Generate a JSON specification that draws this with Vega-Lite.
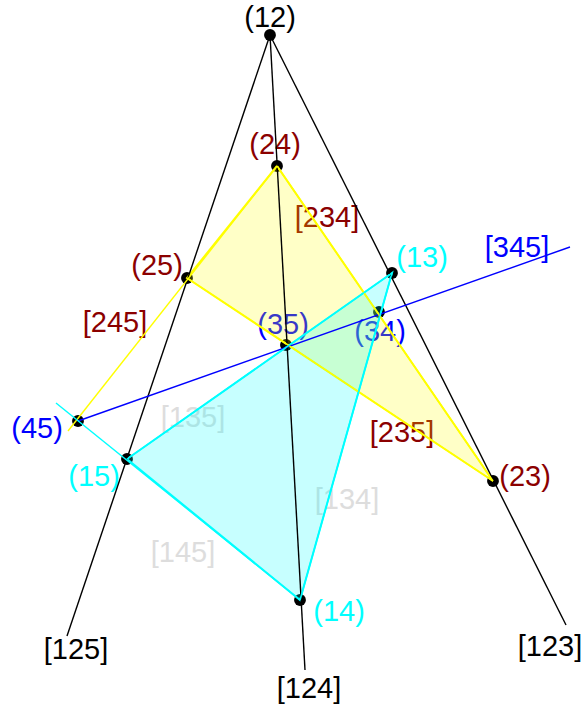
{
  "$schema": "https://vega.github.io/schema/vega-lite/v6.json",
  "width": 583,
  "height": 705,
  "padding": 0,
  "autosize": {"type": "fit", "contains": "padding"},
  "background": "white",
  "config": {"view": {"stroke": null}},
  "datasets": {
    "labels": [
      {"text": "(12)", "x": 270, "y": 18, "grp": "base"},
      {"text": "(24)", "x": 275, "y": 145, "grp": "y"},
      {"text": "(25)", "x": 157, "y": 266, "grp": "y"},
      {"text": "(23)", "x": 525, "y": 477, "grp": "y"},
      {"text": "[234]", "x": 327, "y": 218, "grp": "y"},
      {"text": "[245]", "x": 115, "y": 323, "grp": "y"},
      {"text": "[235]", "x": 402, "y": 433, "grp": "y"},
      {"text": "(13)", "x": 422, "y": 258, "grp": "c"},
      {"text": "(15)", "x": 94, "y": 477, "grp": "c"},
      {"text": "(14)", "x": 339, "y": 612, "grp": "c"},
      {"text": "[135]", "x": 193, "y": 418, "grp": "g"},
      {"text": "[145]", "x": 183, "y": 553, "grp": "g"},
      {"text": "[134]", "x": 347, "y": 500, "grp": "g"},
      {"text": "(35)", "x": 283, "y": 325, "grp": "b"},
      {"text": "(34)", "x": 380, "y": 332, "grp": "b"},
      {"text": "(45)", "x": 37, "y": 429, "grp": "b"},
      {"text": "[345]", "x": 517, "y": 248, "grp": "b"},
      {"text": "[125]", "x": 76, "y": 650, "grp": "base"},
      {"text": "[124]", "x": 309, "y": 689, "grp": "base"},
      {"text": "[123]", "x": 550, "y": 647, "grp": "base"}
    ],
    "points": [
      {"name": "12", "x": 270, "y": 35},
      {"name": "24", "x": 277, "y": 166},
      {"name": "25", "x": 187, "y": 278},
      {"name": "13", "x": 392, "y": 273},
      {"name": "34", "x": 379, "y": 312},
      {"name": "35", "x": 286, "y": 345},
      {"name": "45", "x": 78, "y": 421},
      {"name": "15", "x": 127, "y": 459},
      {"name": "23", "x": 493, "y": 481},
      {"name": "14", "x": 300, "y": 600}
    ],
    "polys": [
      {"poly": "Y", "k": 1, "x": 277, "y": 166},
      {"poly": "Y", "k": 2, "x": 187, "y": 278},
      {"poly": "Y", "k": 3, "x": 493, "y": 481},
      {"poly": "C", "k": 1, "x": 392, "y": 273},
      {"poly": "C", "k": 2, "x": 127, "y": 459},
      {"poly": "C", "k": 3, "x": 300, "y": 600}
    ],
    "lines": [
      {"line": "125", "grp": "base", "k": 1, "x": 270, "y": 35},
      {"line": "125", "grp": "base", "k": 2, "x": 67, "y": 636},
      {"line": "124", "grp": "base", "k": 1, "x": 270, "y": 35},
      {"line": "124", "grp": "base", "k": 2, "x": 305, "y": 670},
      {"line": "123", "grp": "base", "k": 1, "x": 270, "y": 35},
      {"line": "123", "grp": "base", "k": 2, "x": 566, "y": 625},
      {"line": "345", "grp": "b", "k": 1, "x": 78, "y": 421},
      {"line": "345", "grp": "b", "k": 2, "x": 570, "y": 247},
      {"line": "245", "grp": "y", "k": 1, "x": 277, "y": 166},
      {"line": "245", "grp": "y", "k": 2, "x": 68, "y": 431},
      {"line": "234", "grp": "y", "k": 1, "x": 277, "y": 166},
      {"line": "234", "grp": "y", "k": 2, "x": 493, "y": 481},
      {"line": "235", "grp": "y", "k": 1, "x": 187, "y": 278},
      {"line": "235", "grp": "y", "k": 2, "x": 493, "y": 481},
      {"line": "135", "grp": "c", "k": 1, "x": 392, "y": 273},
      {"line": "135", "grp": "c", "k": 2, "x": 127, "y": 459},
      {"line": "134", "grp": "c", "k": 1, "x": 392, "y": 273},
      {"line": "134", "grp": "c", "k": 2, "x": 300, "y": 600},
      {"line": "145", "grp": "c", "k": 1, "x": 56, "y": 403},
      {"line": "145", "grp": "c", "k": 2, "x": 300, "y": 600}
    ]
  },
  "encoding": {
    "x": {"field": "x", "type": "quantitative", "scale": {"domain": [0, 583], "nice": false, "zero": false}, "axis": null},
    "y": {"field": "y", "type": "quantitative", "scale": {"domain": [0, 705], "reverse": true, "nice": false, "zero": false}, "axis": null}
  },
  "layer": [
    {
      "data": {"name": "labels"},
      "mark": {"type": "text", "font": "Liberation Sans", "fontSize": 29, "align": "center", "baseline": "middle"},
      "encoding": {
        "text": {"field": "text"},
        "color": {"field": "grp", "type": "nominal", "legend": null,
          "scale": {"domain": ["base", "y", "c", "g", "b"], "range": ["#000000", "#8b0000", "#00ffff", "#dddddd", "#0000ff"]}}
      }
    },
    {
      "data": {"name": "points"},
      "mark": {"type": "point", "filled": true, "color": "black", "size": 140, "opacity": 1},
      "encoding": {}
    },
    {
      "data": {"name": "polys"},
      "mark": {"type": "line", "interpolate": "linear-closed", "strokeWidth": 2, "fillOpacity": 0.22, "strokeOpacity": 1},
      "encoding": {
        "order": {"field": "k", "type": "quantitative"},
        "detail": {"field": "poly"},
        "fill": {"field": "poly", "type": "nominal", "legend": null, "scale": {"domain": ["Y", "C"], "range": ["#ffff00", "#00ffff"]}},
        "stroke": {"field": "poly", "type": "nominal", "legend": null, "scale": {"domain": ["Y", "C"], "range": ["#ffff00", "#00ffff"]}}
      }
    },
    {
      "data": {"name": "lines"},
      "mark": {"type": "line", "strokeWidth": 1.4},
      "encoding": {
        "order": {"field": "k", "type": "quantitative"},
        "detail": {"field": "line"},
        "color": {"field": "grp", "type": "nominal", "legend": null,
          "scale": {"domain": ["base", "y", "c", "b"], "range": ["#000000", "#ffff00", "#00ffff", "#0000ff"]}}
      }
    }
  ],
  "resolve": {"scale": {"color": "independent", "fill": "independent", "stroke": "independent"}}
}
